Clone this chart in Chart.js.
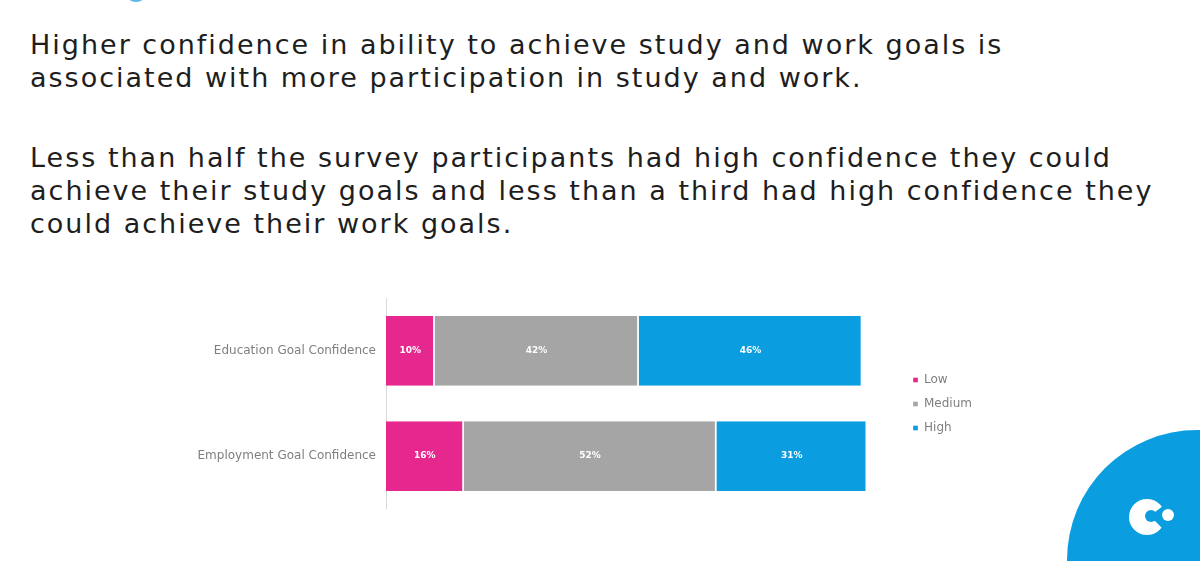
<!DOCTYPE html>
<html>
<head>
<meta charset="utf-8">
<script src="https://cdn.jsdelivr.net/npm/chart.js@4"></script>
<style>
  html, body { margin: 0; padding: 0; background: #fff; }
  body { width: 1200px; height: 561px; position: relative; overflow: hidden; font-family: "DejaVu Sans", sans-serif; }
  .txt { position: absolute; left: 30px; color: #1e1e1e; font-size: 27px; line-height: 33px; white-space: nowrap; letter-spacing: 2px; }
  #p1 { top: 28px; }
  #p2 { top: 141px; }
  #wrap { position: absolute; left: 180px; top: 281px; width: 802px; height: 245px; }
  #blob { position: absolute; left: 1067px; top: 430px; width: 260px; height: 260px; border-radius: 50%; background: #0a9de0; }
  #topdot { position: absolute; left: 124px; top: -22px; width: 24px; height: 24px; border-radius: 50%; background: #5cb9e8; }
  #logo { position: absolute; left: 1120px; top: 490px; }
</style>
</head>
<body>

<div id="topdot"></div>
<div class="txt" id="p1">Higher confidence in ability to achieve study and work goals is<br>associated with more participation in study and work.</div>
<div class="txt" id="p2">Less than half the survey participants had high confidence they could<br>achieve their study goals and less than a third had high confidence they<br>could achieve their work goals.</div>

<div id="wrap"><canvas id="confChart"></canvas></div>

<div id="blob"></div>
<svg id="logo" width="60" height="60" viewBox="0 0 60 60">
  <circle cx="27" cy="27" r="18" fill="#fff"/>
  <polygon points="30,26 48,12 48,44" fill="#0a9de0"/>
  <circle cx="31" cy="26" r="6" fill="#0a9de0"/>
  <circle cx="48" cy="25" r="6" fill="#fff"/>
</svg>

<script>
// categorias e valores (percentagens)
const categories = ["Education Goal Confidence", "Employment Goal Confidence"];
const seriesNames = ["Low", "Medium", "High"];
const lowValues = [10, 16];
const mediumValues = [42, 52];
const highValues = [46, 31];

// escreve o valor de cada segmento no meio da barra
const barLabels = {
  id: "barLabels",
  afterDatasetsDraw(chart) {
    const ctx = chart.ctx;
    ctx.save();
    ctx.font = "bold 9px 'DejaVu Sans'";
    ctx.fillStyle = "#ffffff";
    ctx.textAlign = "center";
    ctx.textBaseline = "middle";
    chart.data.datasets.forEach((ds, i) => {
      chart.getDatasetMeta(i).data.forEach((bar, j) => {
        const p = bar.getProps(["x", "y", "base"], true);
        ctx.fillText(ds.data[j] + "%", (p.x + p.base) / 2, p.y);
      });
    });
    ctx.restore();
  }
};

function makeSet(label, values, color) {
  return {
    label: label,
    data: values,
    backgroundColor: color,
    borderColor: "#ffffff",
    borderWidth: { top: 0, bottom: 0, left: 0, right: 1.5 },
    borderSkipped: false,
    categoryPercentage: 0.8,
    barPercentage: 0.83
  };
}

new Chart(document.getElementById("confChart"), {
  type: "bar",
  data: {
    labels: categories,
    datasets: [
      makeSet(seriesNames[0], lowValues, "#e6288e"),
      makeSet(seriesNames[1], mediumValues, "#a5a5a5"),
      makeSet(seriesNames[2], highValues, "#0a9de0")
    ]
  },
  options: {
    indexAxis: "y",
    responsive: true,
    maintainAspectRatio: false,
    animation: false,
    layout: { padding: { top: 14, bottom: 13, left: 0, right: 0 } },
    plugins: {
      legend: {
        position: "right",
        labels: {
          boxWidth: 5,
          boxHeight: 5,
          padding: 12,
          color: "#7f7f7f",
          font: { family: "DejaVu Sans", size: 12 }
        }
      },
      tooltip: { enabled: false }
    },
    scales: {
      x: {
        stacked: true,
        display: false,
        min: 0,
        max: 106
      },
      y: {
        stacked: true,
        grid: { display: false, drawTicks: false },
        border: { display: true, color: "#d9d9d9", width: 1 },
        ticks: {
          color: "#7f7f7f",
          padding: 10,
          font: { family: "DejaVu Sans", size: 12 }
        },
        afterFit: function (scale) { scale.width = 206; }
      }
    }
  },
  plugins: [barLabels]
});
</script>
</body>
</html>
